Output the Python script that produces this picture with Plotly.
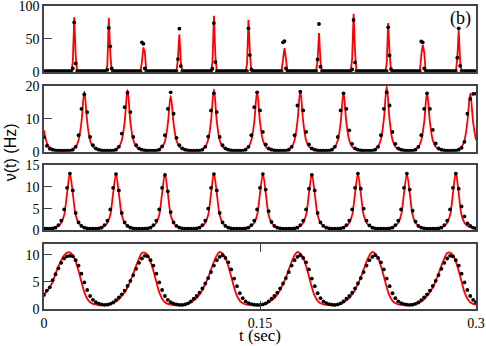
import numpy as np
import plotly.graph_objects as go

# sampling grids (sec): 1 ms for the spiking panel, 2 ms for the others
t_fine = np.arange(301) * 0.001
t = np.arange(151) * 0.002

# panel (b1): sparse spikes, theory (red) and simulation (dots)
p1_red = [
    .5, .5, .5, .5, .5, .5, .5, .5, .5, .5,
    .5, .5, .5, .5, .5, .5, .5, .5, .5, .5,
    15, 83, 25, .5, .5, .5, .5, .5, .5, .5,
    .5, .5, .5, .5, .5, .5, .5, .5, .5, .5,
    .5, .5, .5, .5, 10, 82, 30, .5, .5, .5,
    .5, .5, .5, .5, .5, .5, .5, .5, .5, .5,
    .5, .5, .5, .5, .5, .5, .5, .5, 15, 37,
    30, 3, .5, .5, .5, .5, .5, .5, .5, .5,
    .5, .5, .5, .5, .5, .5, .5, .5, .5, .5,
    .5, .5, .5, 20, 57, 15, .5, .5, .5, .5,
    .5, .5, .5, .5, .5, .5, .5, .5, .5, .5,
    .5, .5, .5, .5, .5, .5, .5, 15, 85, 25,
    .5, .5, .5, .5, .5, .5, .5, .5, .5, .5,
    .5, .5, .5, .5, .5, .5, .5, .5, .5, .5,
    .5, 12, 79, 28, .5, .5, .5, .5, .5, .5,
    .5, .5, .5, .5, .5, .5, .5, .5, .5, .5,
    .5, .5, .5, .5, .5, 2, 25, 36, 20, .5,
    .5, .5, .5, .5, .5, .5, .5, .5, .5, .5,
    .5, .5, .5, .5, .5, .5, .5, .5, .5, .5,
    18, 59, 15, .5, .5, .5, .5, .5, .5, .5,
    .5, .5, .5, .5, .5, .5, .5, .5, .5, .5,
    .5, .5, .5, .5, 20, 88, 30, .5, .5, .5,
    .5, .5, .5, .5, .5, .5, .5, .5, .5, .5,
    .5, .5, .5, .5, .5, .5, .5, .5, 12, 74,
    28, .5, .5, .5, .5, .5, .5, .5, .5, .5,
    .5, .5, .5, .5, .5, .5, .5, .5, .5, .5,
    .5, .5, 25, 41, 30, 2, .5, .5, .5, .5,
    .5, .5, .5, .5, .5, .5, .5, .5, .5, .5,
    .5, .5, .5, .5, .5, .5, .5, 20, 63, 15,
    .5, .5, .5, .5, .5, .5, .5, .5, .5, .5,
    .5,
]
p1_dots = [
    .8, .8, .8, .8, .8, .8, .8, .8, .8, .8,
    .8, .8, .8, .8, .8, .8, .8, .8, .8, .8,
    5, 75, 12.7, .8, .8, .8, .8, .8, .8, .8,
    .8, .8, .8, .8, .8, .8, .8, .8, .8, .8,
    .8, .8, .8, .8, 3, 66.7, 38.6, 5, .8, .8,
    .8, .8, .8, .8, .8, .8, .8, .8, .8, .8,
    .8, .8, .8, .8, .8, .8, .8, .8, 44.7, 42.6,
    5, .8, .8, .8, .8, .8, .8, .8, .8, .8,
    .8, .8, .8, .8, .8, .8, .8, .8, .8, .8,
    .8, .8, .8, 19.3, 65.5, 8.6, .8, .8, .8, .8,
    .8, .8, .8, .8, .8, .8, .8, .8, .8, .8,
    .8, .8, .8, .8, .8, .8, .8, 4.6, 74, 14.7,
    .8, .8, .8, .8, .8, .8, .8, .8, .8, .8,
    .8, .8, .8, .8, .8, .8, .8, .8, .8, .8,
    .8, .8, 66, 25.4, 3.5, .8, .8, .8, .8, .8,
    .8, .8, .8, .8, .8, .8, .8, .8, .8, .8,
    .8, .8, .8, .8, .8, .8, 44.7, 46.7, 5, .8,
    .8, .8, .8, .8, .8, .8, .8, .8, .8, .8,
    .8, .8, .8, .8, .8, .8, .8, .8, .8, .8,
    18.8, 72.6, 7.6, .8, .8, .8, .8, .8, .8, .8,
    .8, .8, .8, .8, .8, .8, .8, .8, .8, .8,
    .8, .8, .8, .8, 3.5, 78.7, 14.2, .8, .8, .8,
    .8, .8, .8, .8, .8, .8, .8, .8, .8, .8,
    .8, .8, .8, .8, .8, .8, .8, .8, .8, 67.5,
    24.9, 4, .8, .8, .8, .8, .8, .8, .8, .8,
    .8, .8, .8, .8, .8, .8, .8, .8, .8, .8,
    .8, .8, 46, 44.7, 5, .8, .8, .8, .8, .8,
    .8, .8, .8, .8, .8, .8, .8, .8, .8, .8,
    .8, .8, .8, .8, .8, .8, .8, 21.3, 66, 9,
    .8, .8, .8, .8, .8, .8, .8, .8, .8, .8,
    .8,
]

# panel (b2)
p2_red = [
    6.5, 2.7, 1.3, 0.8, 0.5, 0.35, 0.3, 0.3, 0.35, 0.5, 0.8, 1.5, 3.5, 9, 18.2,
    9, 3.5, 1.5, 0.8, 0.5, 0.35, 0.3, 0.3, 0.35, 0.5, 0.8, 1.5, 3.5, 9, 18.7,
    9, 3.6, 1.5, 0.8, 0.5, 0.35, 0.3, 0.3, 0.35, 0.5, 0.8, 1.4, 3.2, 8.5, 16.9,
    8.5, 3.4, 1.5, 0.8, 0.5, 0.35, 0.3, 0.3, 0.35, 0.5, 0.8, 1.5, 3.6, 9.5, 18.9,
    9.3, 3.5, 1.5, 0.8, 0.5, 0.35, 0.3, 0.3, 0.35, 0.5, 0.8, 1.5, 3.5, 9, 18.2,
    9, 3.5, 1.5, 0.8, 0.5, 0.35, 0.3, 0.3, 0.35, 0.5, 0.8, 1.5, 3.5, 9.2, 18.4,
    9.1, 3.5, 1.5, 0.8, 0.5, 0.35, 0.3, 0.3, 0.35, 0.5, 0.8, 1.5, 3.4, 8.8, 17.9,
    8.8, 3.5, 1.5, 0.8, 0.5, 0.35, 0.3, 0.3, 0.35, 0.5, 0.8, 1.6, 3.8, 9.8, 19.7,
    9.6, 3.6, 1.5, 0.8, 0.5, 0.35, 0.3, 0.35, 0.5, 0.8, 1.5, 3.5, 9, 17.9,
    9, 3.5, 1.5, 0.8, 0.5, 0.35, 0.3, 0.3, 0.35, 0.5, 0.8, 1.5, 3.5, 9, 17.7,
    9, 3.5,
]
p2_dots = [
    4.4, 1.8, 0.9, 0.6, 0.4, 0.3, 0.3, 0.3, 0.3, 0.3, 0.6, 1.5, 5, 13, 17.4,
    12, 4.5, 2, 1, 0.6, 0.4, 0.3, 0.3, 0.3, 0.3, 0.6, 1.5, 5.5, 13.5, 17.9,
    12, 4.5, 2, 1, 0.6, 0.4, 0.3, 0.3, 0.3, 0.3, 0.6, 1.6, 5, 13, 18,
    11.5, 4.2, 2, 1, 0.6, 0.4, 0.3, 0.3, 0.3, 0.3, 0.6, 1.5, 4.6, 12.5, 17.7,
    12, 4.5, 2, 1, 0.6, 0.4, 0.3, 0.3, 0.3, 0.3, 0.6, 1.5, 5, 13.5, 18,
    12.5, 6, 2.2, 1, 0.6, 0.4, 0.3, 0.3, 0.3, 0.3, 0.6, 1.5, 5, 14, 18.2,
    12.5, 6, 2.2, 1, 0.6, 0.4, 0.3, 0.3, 0.3, 0.3, 0.6, 1.5, 4.5, 12.5, 17.7,
    13, 6.5, 2.4, 1, 0.6, 0.4, 0.3, 0.3, 0.3, 0.3, 0.6, 1.5, 5, 13, 18,
    14, 6, 2.4, 1, 0.6, 0.4, 0.3, 0.3, 0.3, 0.6, 1.5, 5, 13, 17.7,
    13, 6.6, 2.5, 1, 0.6, 0.4, 0.3, 0.3, 0.3, 0.3, 0.6, 1.2, 3, 11.5, 16,
    17.5, 17.6,
]

# panel (b3)
p3_red = [
    0.45, 0.4, 0.45, 0.5, 0.7, 1.0, 1.7, 3.5, 8.5, 13.1,
    8.5, 3.5, 1.7, 1.0, 0.7, 0.5, 0.4, 0.35, 0.4, 0.5, 0.7, 1.0, 1.7, 3.5, 8.5, 13.0,
    8.5, 3.5, 1.7, 1.0, 0.7, 0.5, 0.4, 0.35, 0.35, 0.4, 0.5, 0.7, 1.0, 1.7, 3.5, 8.5, 13.0,
    8.5, 3.5, 1.7, 1.0, 0.7, 0.5, 0.4, 0.35, 0.35, 0.4, 0.5, 0.7, 1.0, 1.7, 3.5, 8.5, 13.1,
    8.5, 3.5, 1.7, 1.0, 0.7, 0.5, 0.4, 0.35, 0.35, 0.4, 0.5, 0.7, 1.0, 1.7, 3.5, 8.5, 13.0,
    8.5, 3.5, 1.7, 1.0, 0.7, 0.5, 0.4, 0.35, 0.35, 0.4, 0.5, 0.7, 1.0, 1.7, 3.5, 8.5, 13.0,
    8.5, 3.5, 1.7, 1.0, 0.7, 0.5, 0.4, 0.35, 0.4, 0.5, 0.7, 1.0, 1.7, 3.5, 8.5, 13.0,
    8.5, 3.5, 1.7, 1.0, 0.7, 0.5, 0.4, 0.35, 0.35, 0.4, 0.5, 0.7, 1.0, 1.7, 3.5, 8.5, 13.0,
    8.5, 3.5, 1.7, 1.0, 0.7, 0.5, 0.4, 0.35, 0.35, 0.4, 0.5, 0.7, 1.0, 1.7, 3.5, 8.5, 13.3,
    8.5, 3.5, 1.7, 1.0, 0.7, 0.5, 0.4,
]
p3_dots = [
    0.4, 0.35, 0.35, 0.4, 0.6, 1.2, 2.2, 4.8, 9.8, 13.1,
    9.2, 4.0, 1.8, 1.0, 0.6, 0.45, 0.35, 0.35, 0.35, 0.45, 0.6, 1.2, 2.2, 4.8, 9.8, 13.0,
    9.2, 4.0, 1.8, 1.0, 0.6, 0.45, 0.35, 0.35, 0.35, 0.35, 0.45, 0.6, 1.2, 2.2, 4.8, 9.8, 12.8,
    9.0, 4.2, 1.8, 1.0, 0.6, 0.45, 0.35, 0.35, 0.35, 0.35, 0.45, 0.6, 1.2, 2.2, 5.0, 9.8, 13.0,
    9.2, 4.0, 1.8, 1.0, 0.6, 0.45, 0.35, 0.35, 0.35, 0.35, 0.45, 0.6, 1.2, 2.2, 4.8, 9.8, 13.0,
    9.4, 4.4, 1.9, 1.0, 0.6, 0.45, 0.35, 0.35, 0.35, 0.35, 0.45, 0.6, 1.2, 2.2, 4.8, 9.6, 12.8,
    9.2, 4.0, 1.8, 1.0, 0.6, 0.45, 0.35, 0.35, 0.35, 0.45, 0.6, 1.2, 2.2, 4.8, 9.8, 13.1,
    9.6, 5.0, 2.2, 1.1, 0.6, 0.45, 0.35, 0.35, 0.35, 0.35, 0.45, 0.6, 1.2, 2.2, 4.8, 9.8, 13.1,
    9.4, 4.5, 2.0, 1.0, 0.6, 0.45, 0.35, 0.35, 0.35, 0.35, 0.45, 0.6, 1.2, 2.2, 4.8, 9.8, 13.1,
    9.6, 5.5, 3.2, 1.6, 1.0, 0.6, 0.45,
]

# panel (b4)
p4_red = [
    2.7, 3.3, 4.0, 5.0, 6.5, 7.8, 9.0, 9.9, 10.4, 10.4,
    9.9, 8.7, 7.0, 5.0, 3.1, 1.9, 1.25, 0.95, 0.8, 0.72,
    0.68, 0.67, 0.76, 0.9, 1.1, 1.4, 1.8, 2.4, 3.1, 4.0,
    5.2, 6.5, 8.0, 9.3, 10.3, 10.4, 9.9, 8.7, 7.0, 5.0,
    3.1, 1.9, 1.25, 0.95, 0.8, 0.72, 0.68, 0.67, 0.72, 0.8,
    1.0, 1.2, 1.6, 2.0, 2.7, 3.5, 4.6, 5.8, 7.3, 8.7,
    9.9, 10.5, 10.2, 9.4, 7.9, 6.0, 4.0, 2.4, 1.5, 1.05,
    0.85, 0.75, 0.7, 0.67, 0.67, 0.72, 0.8, 1.0, 1.2, 1.6,
    2.0, 2.7, 3.5, 4.6, 5.8, 7.3, 8.7, 9.9, 10.5, 10.2,
    9.4, 7.9, 6.0, 4.0, 2.4, 1.5, 1.05, 0.85, 0.75, 0.7,
    0.67, 0.72, 0.8, 1.0, 1.2, 1.6, 2.0, 2.7, 3.5, 4.6,
    5.8, 7.3, 8.7, 9.9, 10.5, 10.2, 9.4, 7.9, 6.0, 4.0,
    2.4, 1.5, 1.05, 0.85, 0.75, 0.7, 0.67, 0.7, 0.76, 0.9,
    1.1, 1.4, 1.8, 2.4, 3.1, 4.0, 5.2, 6.5, 8.0, 9.3,
    10.3, 10.4, 9.9, 8.7, 7.0, 5.0, 3.1, 1.9, 1.25, 0.95,
    0.8,
]
p4_dots = [
    2.6, 3.4, 4.0, 5.3, 6.4, 7.5, 8.5, 9.3, 9.7, 9.8,
    9.7, 9.0, 8.0, 6.5, 4.9, 3.5, 2.4, 1.7, 1.25, 1.0,
    0.85, 0.77, 0.8, 0.95, 1.2, 1.65, 2.15, 2.7, 3.4, 4.25,
    5.2, 6.25, 7.4, 8.5, 9.3, 9.8, 9.7, 9.0, 8.0, 6.5,
    4.9, 3.5, 2.4, 1.7, 1.25, 1.0, 0.85, 0.77, 0.75, 0.85,
    1.05, 1.4, 1.9, 2.4, 3.0, 3.8, 4.7, 5.7, 6.8, 8.0,
    9.0, 9.6, 9.9, 9.4, 8.6, 7.3, 5.6, 4.2, 2.9, 2.0,
    1.4, 1.1, 0.9, 0.8, 0.75, 0.75, 0.85, 1.05, 1.4, 1.9,
    2.4, 3.0, 3.8, 4.7, 5.7, 6.8, 8.0, 9.0, 9.6, 9.9,
    9.4, 8.6, 7.3, 5.6, 4.2, 2.9, 2.0, 1.4, 1.1, 0.9,
    0.8, 0.75, 0.85, 1.05, 1.4, 1.9, 2.4, 3.0, 3.8, 4.7,
    5.7, 6.8, 8.0, 9.0, 9.6, 9.9, 9.4, 8.6, 7.3, 5.6,
    4.2, 2.9, 2.0, 1.4, 1.1, 0.9, 0.8, 0.75, 0.8, 0.95,
    1.2, 1.65, 2.15, 2.7, 3.4, 4.25, 5.2, 6.25, 7.4, 8.5,
    9.3, 9.8, 9.7, 9.0, 8.0, 6.5, 4.9, 3.5, 2.4, 1.7,
    1.25,
]

y_ranges = [[0, 100], [0, 20], [0, 15], [0, 12]]
y_ticks = [[0, 50, 100], [0, 10, 20], [0, 5, 10, 15], [0, 5, 10]]
x_ticks = [0, 0.15, 0.3]
x_ticktext = ["0", "0.15", "0.3"]

panels = [
    (t_fine, p1_red, p1_dots, "linear"),
    (t, p2_red, p2_dots, "spline"),
    (t, p3_red, p3_dots, "spline"),
    (t, p4_red, p4_dots, "spline"),
]
domains = [[0.783, 1.0], [0.519, 0.737], [0.260, 0.474], [0.0, 0.215]]

FRAME = "#444"
tick_font = dict(family="Liberation Serif", size=14, color="black")

fig = go.Figure()
for k, (tt, red, dots, shape) in enumerate(panels, start=1):
    xa = "x" if k == 1 else f"x{k}"
    ya = "y" if k == 1 else f"y{k}"
    fig.add_trace(go.Scatter(x=tt, y=red, mode="lines", xaxis=xa, yaxis=ya,
                             line=dict(color="#ff0000", width=1.8, shape=shape),
                             showlegend=False, hoverinfo="skip"))
    fig.add_trace(go.Scatter(x=tt, y=dots, mode="markers", xaxis=xa, yaxis=ya,
                             marker=dict(color="black", size=3.8, symbol="circle"),
                             showlegend=False, hoverinfo="skip"))

    last = k == 4
    fig.layout["xaxis" if k == 1 else f"xaxis{k}"] = dict(
        anchor=ya, domain=[0, 1], range=[0, 0.3], automargin=False,
        showgrid=False, zeroline=False,
        showline=True, linecolor=FRAME, linewidth=1.5, mirror="ticks" if last else True,
        ticks="inside" if last else "", ticklen=8, tickcolor=FRAME,
        tickvals=x_ticks, ticktext=x_ticktext, ticklabeloverflow="allow",
        showticklabels=last, tickfont=tick_font,
    )
    fig.layout["yaxis" if k == 1 else f"yaxis{k}"] = dict(
        anchor=xa, domain=domains[k - 1], range=y_ranges[k - 1], automargin=False,
        showgrid=False, zeroline=False,
        showline=True, linecolor=FRAME, linewidth=1.5, mirror=True,
        ticks="inside", ticklen=8, tickcolor=FRAME, ticklabeloverflow="allow",
        tickvals=y_ticks[k - 1], tickfont=tick_font,
    )

fig.add_annotation(text="t (sec)", xref="paper", yref="paper", x=0.5, y=-0.088,
                   showarrow=False, xanchor="center", yanchor="middle",
                   font=dict(family="Liberation Serif", size=17, color="black"))
fig.add_annotation(text="ν(t) (Hz)", xref="paper", yref="paper", x=-0.079, y=0.517,
                   textangle=-90, showarrow=False, xanchor="center", yanchor="middle",
                   font=dict(family="Liberation Sans", size=16, color="black"))
fig.add_annotation(text="(b)", xref="paper", yref="paper", x=0.963, y=0.959,
                   showarrow=False, xanchor="center", yanchor="middle",
                   font=dict(family="Liberation Serif", size=18, color="black"))

fig.update_layout(
    width=486, height=346,
    margin=dict(l=44, r=10, t=6, b=37),
    paper_bgcolor="white", plot_bgcolor="white",
)

# the page body has a default 8px margin; drop it so the figure sits at the corner
fig.write_html("out.html", config={"displayModeBar": False},
               post_script="document.body.style.margin = '0px';")
